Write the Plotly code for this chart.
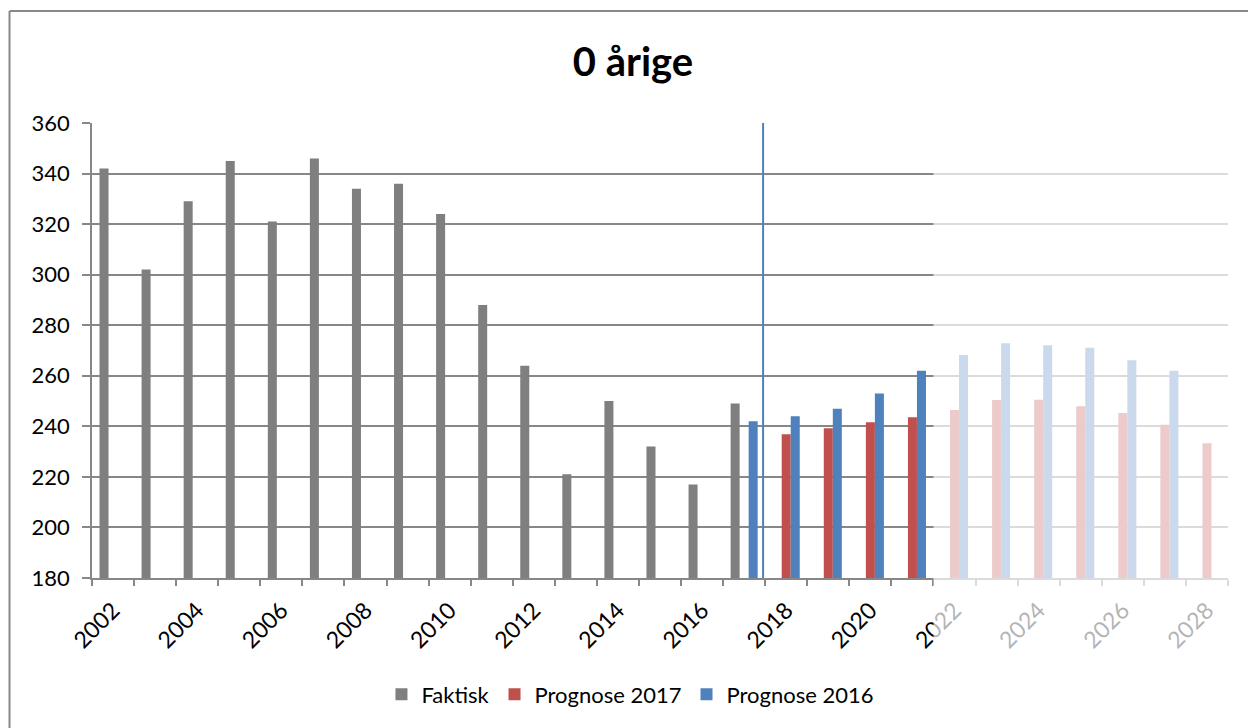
import plotly.graph_objects as go

# år på x-aksen
aar = list(range(2002, 2029))

# faktiske tal 2002-2017
faktisk = [342, 302, 329, 345, 321, 346, 334, 336, 324, 288, 264, 221, 250, 232, 217, 249]
# prognose 2017 (2018-2028)
prognose_2017 = [236.9, 239.2, 241.6, 243.6, 246.5, 250.4, 250.5, 247.9, 245.3, 240.6, 233.3]
# prognose 2016 (2017-2027)
prognose_2016 = [242, 244, 247, 253, 262, 268.2, 272.9, 272.1, 271.1, 266.1, 262]

y_ticks = [180, 200, 220, 240, 260, 280, 300, 320, 340, 360]
x_labels = aar[::2]

prognose_skille = 2017.45   # lodret streg mellem faktisk og prognose
usikker_fra = 2021.5        # herfra er prognosen tonet ned

def udfyld(start, vaerdier):
    d = {a: v for a, v in zip(range(start, start + len(vaerdier)), vaerdier)}
    return [d.get(a) for a in aar]

GRAA = '#7F7F7F'
ROED = '#C0504D'
BLAA = '#4F81BD'
LINJE = '#878787'
FONT = 'Lato'

fig = go.Figure()
fig.add_trace(go.Bar(x=aar, y=udfyld(2002, faktisk), name='Faktisk', marker=dict(color=GRAA, line=dict(width=0))))
fig.add_trace(go.Bar(x=aar, y=udfyld(2018, prognose_2017), name='Prognose 2017', marker=dict(color=ROED, line=dict(width=0))))
fig.add_trace(go.Bar(x=aar, y=udfyld(2017, prognose_2016), name='Prognose 2016', marker=dict(color=BLAA, line=dict(width=0))))

x0, x1 = aar[0] - 0.5, aar[-1] + 0.5
fade = (usikker_fra - x0) / (x1 - x0)

# siden har 8px kant, så figuren er 1248x720
fig.update_layout(
    width=1248, height=720,
    margin=dict(l=84, r=28, t=115, b=148),
    paper_bgcolor='white', plot_bgcolor='white',
    font=dict(family=FONT, size=22, color='black'),
    barmode='group', bargap=0.357, bargroupgap=0,
    title=dict(text='<b>0 årige</b>', font=dict(size=40, family=FONT, color='black'),
               x=0.5008, xref='container', xanchor='center',
               y=1 - 54 / 720, yref='container', yanchor='middle'),
    xaxis=dict(range=[x0, x1], tickmode='array', tickvals=x_labels,
               ticktext=[str(a) for a in x_labels], tickangle=-45, ticks='',
               showgrid=False, zeroline=False, showline=True, linecolor=LINJE, linewidth=1.5,
               ticklabelstandoff=8, tickfont=dict(size=23, color='black'),
               minor=dict(ticks='outside', tick0=x0, dtick=1, ticklen=6,
                          tickcolor=LINJE, tickwidth=1.5, showgrid=False)),
    yaxis=dict(range=[180, 360], tickmode='array', tickvals=y_ticks,
               showgrid=True, gridcolor=LINJE, gridwidth=1.5, zeroline=False,
               showline=True, linecolor=LINJE, linewidth=1.5,
               ticks='outside', ticklen=8, tickcolor=LINJE, tickwidth=1.5,
               ticklabelstandoff=8, tickfont=dict(size=22, color='black')),
    legend=dict(orientation='h', x=0.474, xanchor='center', y=1 - (697 - 123) / 457,
                yanchor='middle', font=dict(size=22, color='black'), traceorder='normal'),
    shapes=[
        dict(type='line', xref='x', yref='paper', x0=prognose_skille, x1=prognose_skille,
             y0=0, y1=1, line=dict(color=BLAA, width=2)),
        dict(type='rect', xref='paper', yref='paper', x0=fade, x1=1.03,
             y0=-0.2, y1=1.02, fillcolor='white', opacity=0.7, line=dict(width=0), layer='above'),
        dict(type='line', xref='paper', yref='paper', x0=-0.0726, x1=-0.0726,
             y0=-0.33, y1=1.246, line=dict(color='#888888', width=2)),
        dict(type='line', xref='paper', yref='paper', x0=-0.0726, x1=1.03,
             y0=1.246, y1=1.246, line=dict(color='#888888', width=2)),
    ],
)

fig.write_html("out.html")
